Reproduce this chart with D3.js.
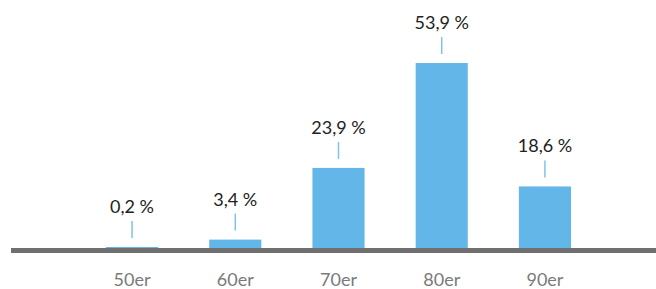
<!DOCTYPE html>
<html><head><meta charset="utf-8">
<script src="https://cdn.jsdelivr.net/npm/d3@7"></script>
<style>body{margin:0;background:#fff}svg{display:block}</style>
</head><body>
<svg id="c" width="656" height="289"></svg>
<script>
const categories = ["50er","60er","70er","80er","90er"];
const values = [0.2, 3.4, 23.9, 53.9, 18.6];
const valueLabels = ["0,2\u202F%","3,4\u202F%","23,9\u202F%","53,9\u202F%","18,6\u202F%"];

const svg = d3.select("#c");
const x = d3.scaleBand().domain(categories).range([80.5, 596.5]).paddingInner(0.495).paddingOuter(0.247);
const y = d3.scaleLinear().domain([0, 53.9]).range([251.5, 63]);
const font = "Lato, 'Open Sans', sans-serif";

svg.selectAll("rect.bar").data(values).join("rect")
  .attr("class","bar")
  .attr("x",(d,i)=>x(categories[i]))
  .attr("width",x.bandwidth())
  .attr("y",d=>Math.min(y(d),247))
  .attr("height",d=>251.5-Math.min(y(d),247))
  .attr("fill","#62b7e8");

// axis
const axis = d3.axisBottom(x).tickSize(0).tickPadding(0);
const g = svg.append("g").attr("transform","translate(0,250.5)").call(axis);
g.select(".domain").remove();
g.append("line").attr("x1",11).attr("x2",656).attr("y1",0).attr("y2",0)
  .attr("stroke","#706f6f").attr("stroke-width",5);
g.selectAll(".tick text").attr("y",35).attr("dy",0)
  .attr("fill","#7a7a7a").attr("font-size",18).attr("font-family",font);

// leaders and labels
values.forEach((v,i)=>{
  const cx = x(categories[i]) + x.bandwidth()/2;
  const top = Math.min(y(v),247);
  svg.append("line").attr("x1",cx).attr("x2",cx)
    .attr("y1",top-9).attr("y2",top-26)
    .attr("stroke","#7cc4ec").attr("stroke-width",1.5);
  svg.append("text").attr("x",cx).attr("y",top-34)
    .attr("text-anchor","middle").attr("font-family",font).attr("font-size",18)
    .attr("fill","#222").text(valueLabels[i]);
});
</script>
</body></html>
